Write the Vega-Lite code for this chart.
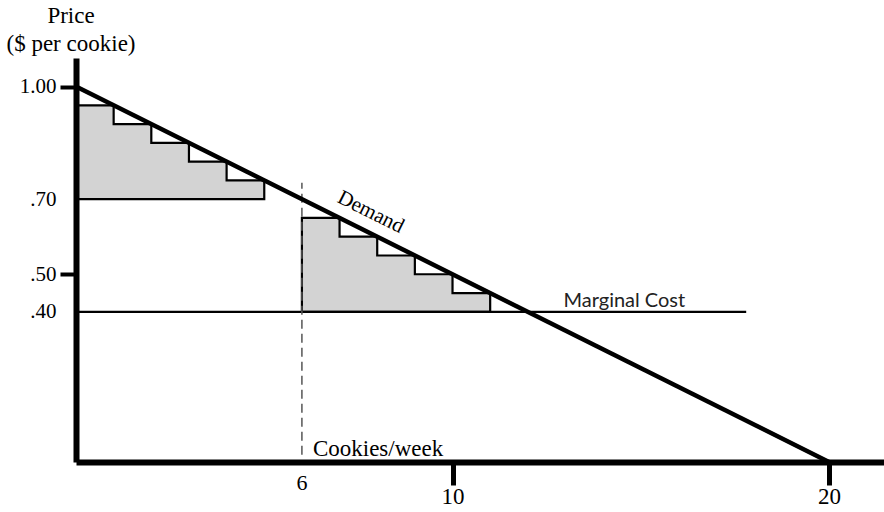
{
  "$schema": "https://vega.github.io/schema/vega-lite/v6.json",
  "width": 808,
  "height": 404,
  "autosize": "none",
  "padding": {"left": 76, "top": 58, "right": 0, "bottom": 50},
  "background": "white",
  "config": {"view": {"stroke": null}},
  "datasets": {
    "steps": [
      {"block": "A", "q": 0, "p": 0.95, "base": 0.70},
      {"block": "A", "q": 1, "p": 0.90, "base": 0.70},
      {"block": "A", "q": 2, "p": 0.85, "base": 0.70},
      {"block": "A", "q": 3, "p": 0.80, "base": 0.70},
      {"block": "A", "q": 4, "p": 0.75, "base": 0.70},
      {"block": "A", "q": 5, "p": 0.75, "base": 0.70},
      {"block": "B", "q": 6, "p": 0.65, "base": 0.40},
      {"block": "B", "q": 7, "p": 0.60, "base": 0.40},
      {"block": "B", "q": 8, "p": 0.55, "base": 0.40},
      {"block": "B", "q": 9, "p": 0.50, "base": 0.40},
      {"block": "B", "q": 10, "p": 0.45, "base": 0.40},
      {"block": "B", "q": 11, "p": 0.45, "base": 0.40}
    ],
    "demand": [
      {"q": 0, "p": 1.0},
      {"q": 20, "p": 0.0}
    ],
    "mc": [{"q": 0, "q2": 17.8, "p": 0.40}],
    "dash": [{"q": 6, "p": 0.019, "p2": 0.744}]
  },
  "encoding": {
    "x": {
      "field": "q",
      "type": "quantitative",
      "scale": {"domain": [0, 21.46], "nice": false, "zero": false},
      "axis": {
        "values": [6, 10, 20],
        "title": null,
        "grid": false,
        "domainColor": "black",
        "domainWidth": 6,
        "tickSize": 23,
        "tickWidth": 5,
        "tickColor": {"condition": {"test": "datum.value == 6", "value": "transparent"}, "value": "black"},
        "labelExpr": "datum.value == 6 ? '' : datum.label",
        "labelFont": "Liberation Serif",
        "labelFontSize": 23,
        "labelColor": "#000",
        "labelPadding": 0,
        "zindex": 1
      }
    },
    "y": {
      "field": "p",
      "type": "quantitative",
      "scale": {"domain": [0, 1.0759], "nice": false},
      "axis": {
        "values": [0.4, 0.5, 0.7, 1.0],
        "title": null,
        "grid": false,
        "domainColor": "black",
        "domainWidth": 6,
        "tickSize": 16,
        "tickWidth": 4,
        "tickColor": {"condition": {"test": "datum.value == 0.7 || datum.value == 0.4", "value": "transparent"}, "value": "black"},
        "labelExpr": "replace(format(datum.value, '.2f'), '0.', '.')",
        "labelFont": "Liberation Serif",
        "labelFontSize": 21,
        "labelColor": "#000",
        "labelPadding": 4,
        "zindex": 1
      }
    }
  },
  "layer": [
    {
      "data": {"name": "steps"},
      "mark": {"type": "area", "interpolate": "step-after", "fill": "#d3d3d3", "fillOpacity": 1, "stroke": "black", "strokeWidth": 2.2},
      "encoding": {
        "y2": {"field": "base"},
        "detail": {"field": "block", "type": "nominal"}
      }
    },
    {
      "data": {"name": "mc"},
      "mark": {"type": "rule", "color": "black", "strokeWidth": 2.2},
      "encoding": {"x2": {"field": "q2"}}
    },
    {
      "data": {"name": "dash"},
      "mark": {"type": "rule", "color": "#555", "strokeWidth": 1.5, "strokeDash": [9, 5]},
      "encoding": {"y2": {"field": "p2"}}
    },
    {
      "data": {"name": "demand"},
      "mark": {"type": "line", "color": "black", "strokeWidth": 4.5},
      "encoding": {}
    },
    {
      "data": {"values": [{"q": 0, "p": 1.0, "label": "Price"}]},
      "mark": {"type": "text", "font": "Liberation Serif", "fontSize": 23, "color": "#000", "align": "center", "baseline": "alphabetic", "dx": -5, "dy": -64},
      "encoding": {"text": {"field": "label"}}
    },
    {
      "data": {"values": [{"q": 0, "p": 1.0, "label": "($ per cookie)"}]},
      "mark": {"type": "text", "font": "Liberation Serif", "fontSize": 23, "color": "#000", "align": "center", "baseline": "alphabetic", "dx": -5, "dy": -36},
      "encoding": {"text": {"field": "label"}}
    },
    {
      "data": {"values": [{"q": 6, "p": 0, "label": "Cookies/week"}]},
      "mark": {"type": "text", "font": "Liberation Serif", "fontSize": 23, "color": "#000", "align": "left", "baseline": "alphabetic", "dx": 11, "dy": -6},
      "encoding": {"text": {"field": "label"}}
    },
    {
      "data": {"values": [{"q": 6, "p": 0, "label": "6"}]},
      "mark": {"type": "text", "font": "Liberation Serif", "fontSize": 22, "color": "#000", "align": "center", "baseline": "alphabetic", "dy": 28},
      "encoding": {"text": {"field": "label"}}
    },
    {
      "data": {"values": [{"q": 7.6, "p": 0.62, "label": "Demand"}]},
      "mark": {"type": "text", "font": "Liberation Serif", "fontSize": 21, "color": "#000", "align": "center", "baseline": "alphabetic", "angle": 26.57, "dy": -13},
      "encoding": {"text": {"field": "label"}}
    },
    {
      "data": {"values": [{"q": 13, "p": 0.40, "label": "Marginal Cost"}]},
      "mark": {"type": "text", "font": "Lato", "fontSize": 20, "color": "#222", "align": "left", "baseline": "alphabetic", "dx": -2, "dy": -5},
      "encoding": {"text": {"field": "label"}}
    }
  ]
}
